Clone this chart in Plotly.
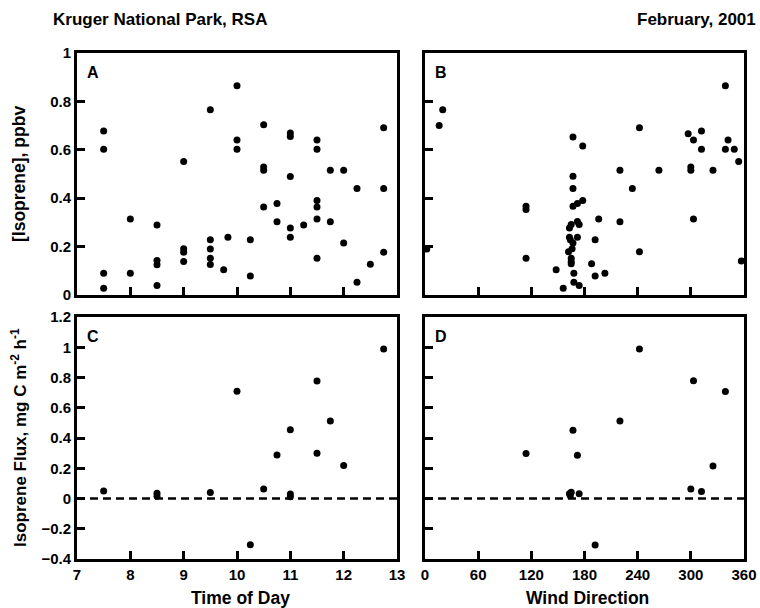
import plotly.graph_objects as go

W, H = 760, 608

# ---- data ----
A_time = [7.5, 7.5, 7.5, 7.5, 8, 8, 8.5, 8.5, 8.5, 8.5, 9, 9, 9, 9,
          9.5, 9.5, 9.5, 9.5, 9.5, 9.75, 9.83, 10, 10, 10, 10.25, 10.25,
          10.5, 10.5, 10.5, 10.5, 10.75, 10.75, 11, 11, 11, 11, 11, 11.25,
          11.5, 11.5, 11.5, 11.5, 11.5, 11.5, 11.75, 11.75, 12, 12,
          12.25, 12.25, 12.5, 12.75, 12.75, 12.75]
A_iso = [0.678, 0.602, 0.09, 0.028, 0.314, 0.09, 0.289, 0.143, 0.125, 0.039,
         0.552, 0.191, 0.177, 0.138, 0.765, 0.228, 0.19, 0.152, 0.126, 0.104,
         0.239, 0.865, 0.641, 0.602, 0.228, 0.078, 0.703, 0.529, 0.515, 0.364,
         0.378, 0.303, 0.669, 0.655, 0.49, 0.277, 0.239, 0.289, 0.641, 0.602,
         0.39, 0.364, 0.314, 0.152, 0.515, 0.303, 0.515, 0.215, 0.44, 0.053,
         0.127, 0.691, 0.44, 0.177]

B_wind = [2, 16, 20, 114, 114, 114, 148, 156, 162, 163, 163, 164, 165, 165,
          165, 165, 166, 167, 167, 167, 167, 167, 168, 168, 172, 172, 172, 174,
          174, 178, 178, 188, 192, 192, 196, 203, 220, 220, 234, 242, 242, 264,
          297, 300, 300, 303, 303, 312, 312, 325, 339, 339, 342, 349, 354, 357]
B_iso = [0.19, 0.70, 0.765, 0.367, 0.353, 0.152, 0.104, 0.028, 0.179, 0.277,
         0.239, 0.228, 0.152, 0.138, 0.129, 0.291, 0.191, 0.215, 0.653, 0.491,
         0.44, 0.367, 0.09, 0.053, 0.378, 0.304, 0.239, 0.291, 0.039, 0.616,
         0.39, 0.129, 0.228, 0.078, 0.314, 0.09, 0.516, 0.303, 0.44, 0.691,
         0.179, 0.516, 0.666, 0.529, 0.515, 0.641, 0.314, 0.678, 0.602, 0.516,
         0.865, 0.602, 0.641, 0.602, 0.552, 0.141]

C_time = [7.5, 8.5, 8.5, 9.5, 10, 10.25, 10.5, 10.75, 11, 11, 11, 11.5, 11.5,
          11.75, 12, 12.75]
C_flux = [0.049, 0.035, 0.015, 0.04, 0.709, -0.305, 0.062, 0.287, 0.455, 0.029,
          0.012, 0.777, 0.30, 0.512, 0.219, 0.989]

D_wind = [114, 163, 164, 165, 167, 172, 174, 192, 220, 242, 300, 303, 312, 325, 339]
D_flux = [0.297, 0.031, 0.018, 0.042, 0.452, 0.286, 0.031, -0.308, 0.512, 0.989,
          0.062, 0.778, 0.047, 0.215, 0.707]

time_ticks = [7, 8, 9, 10, 11, 12, 13]
wind_ticks = [0, 60, 120, 180, 240, 300, 360]
iso_ticks = [0, 0.2, 0.4, 0.6, 0.8, 1]
flux_ticks = [-0.4, -0.2, 0, 0.2, 0.4, 0.6, 0.8, 1, 1.2]

FONT = "Liberation Sans, Arial, Helvetica, sans-serif"

def px_x(p):
    return p / W

def px_y(p):
    return 1 - p / H

# panel pixel boxes
colL = [px_x(77), px_x(397)]
colR = [px_x(425), px_x(744)]
rowT = [px_y(295), px_y(53)]
rowB = [px_y(559), px_y(317)]

marker = dict(color="black", size=7)
fig = go.Figure()
fig.add_trace(go.Scatter(x=A_time, y=A_iso, mode="markers", marker=marker, xaxis="x", yaxis="y"))
fig.add_trace(go.Scatter(x=B_wind, y=B_iso, mode="markers", marker=marker, xaxis="x2", yaxis="y2"))
fig.add_trace(go.Scatter(x=C_time, y=C_flux, mode="markers", marker=marker, xaxis="x3", yaxis="y3"))
fig.add_trace(go.Scatter(x=D_wind, y=D_flux, mode="markers", marker=marker, xaxis="x4", yaxis="y4"))

tickfont = dict(family=FONT, size=15, color="black", weight="bold")
base = dict(showline=True, linecolor="black", linewidth=3, mirror=True,
            ticks="inside", ticklen=8, tickwidth=2.5, tickcolor="black",
            showgrid=False, zeroline=False, tickfont=tickfont, fixedrange=True,
            automargin=False)

fig.update_layout(
    width=W, height=H, margin=dict(l=0, r=0, t=0, b=0, pad=0, autoexpand=False),
    paper_bgcolor="white", plot_bgcolor="white", showlegend=False,
    xaxis=dict(base, domain=colL, range=[7, 13], tickvals=time_ticks, showticklabels=False, anchor="y"),
    yaxis=dict(base, domain=rowT, range=[0, 1], tickvals=iso_ticks, anchor="x"),
    xaxis2=dict(base, domain=colR, range=[0, 360], tickvals=wind_ticks, showticklabels=False, anchor="y2"),
    yaxis2=dict(base, domain=rowT, range=[0, 1], tickvals=iso_ticks, showticklabels=False, anchor="x2"),
    xaxis3=dict(base, domain=colL, range=[7, 13], tickvals=time_ticks, anchor="y3"),
    yaxis3=dict(base, domain=rowB, range=[-0.4, 1.2], tickvals=flux_ticks, anchor="x3"),
    xaxis4=dict(base, domain=colR, range=[0, 360], tickvals=wind_ticks, anchor="y4"),
    yaxis4=dict(base, domain=rowB, range=[-0.4, 1.2], tickvals=flux_ticks, showticklabels=False, anchor="x4"),
)

for xr, yr in (("x3", "y3"), ("x4", "y4")):
    fig.add_shape(type="line", xref=f"{xr} domain", yref=yr, x0=0, x1=1, y0=0, y1=0,
                  line=dict(color="black", width=2.5, dash="8px,5px"))

def ann(text, x, y, size, xanchor="center", yanchor="middle", angle=0):
    fig.add_annotation(text=text, x=px_x(x), y=px_y(y), xref="paper", yref="paper",
                       showarrow=False, xanchor=xanchor, yanchor=yanchor, textangle=angle,
                       font=dict(family=FONT, size=size, color="black", weight="bold"))

ann("Kruger National Park, RSA", 51, 19, 17, xanchor="left")
ann("February, 2001", 758, 19, 17, xanchor="right")
ann("A", 85, 73, 16, xanchor="left")
ann("B", 433, 73, 16, xanchor="left")
ann("C", 85, 336, 16, xanchor="left")
ann("D", 433, 336, 16, xanchor="left")
ann("[Isoprene], ppbv", 19, 174, 17.5, angle=-90)
ann("Isoprene Flux, mg C m<sup>-2</sup> h<sup>-1</sup>", 19, 438, 17, angle=-90)
ann("Time of Day", 240, 598, 17.5)
ann("Wind Direction", 587, 598, 17.5)

fig.write_html("out.html", config={"displayModeBar": False},
               post_script="document.body.style.margin='0';document.body.style.padding='0';")
